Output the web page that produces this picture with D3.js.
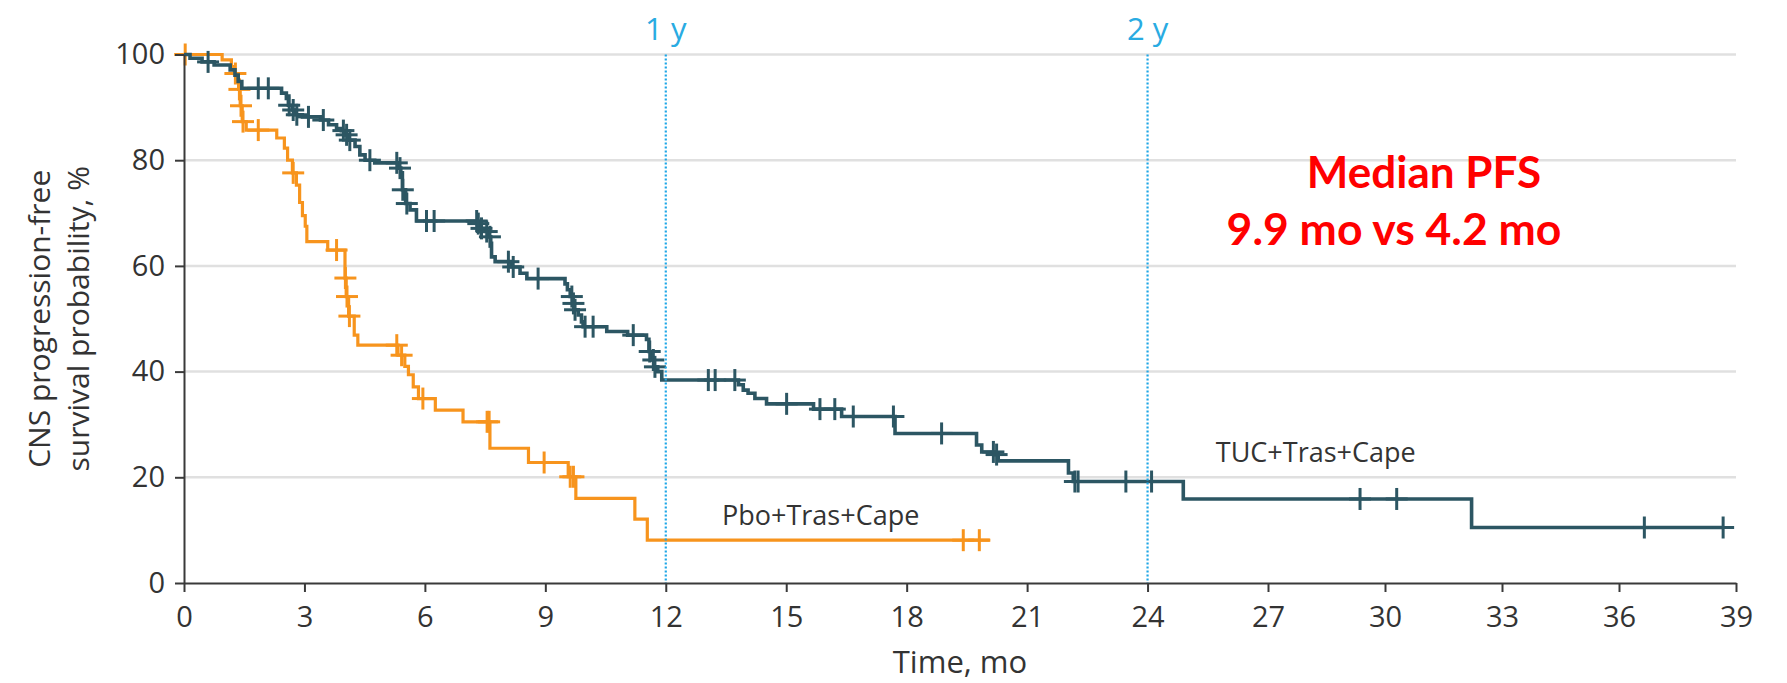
<!DOCTYPE html>
<html>
<head>
<meta charset="utf-8">
<script src="https://cdn.jsdelivr.net/npm/d3@7"></script>
<style>
  body { margin: 0; background: #fff; }
  svg { display: block; }
  .axis text { font-family: "Open Sans", sans-serif; font-size: 29px; fill: #333; }
  .axis path, .axis line { stroke: #3a3a3a; stroke-width: 2; }
</style>
</head>
<body>
<svg id="chart" width="1787" height="683"></svg>
<script>
// Kaplan-Meier steps: [month, survival %] = value from that month on
const tucSteps = [
  [0, 100], [0.15, 99.3], [0.45, 98.6], [0.75, 98.0], [1.15, 97.1], [1.27, 96.1],
  [1.35, 94.9], [1.44, 93.6], [2.43, 92.7], [2.55, 91.7], [2.60, 90.4], [2.70, 89.5],
  [2.78, 88.6], [2.95, 88.2], [3.40, 87.6], [3.60, 86.7], [3.80, 86.0], [3.92, 85.6],
  [4.00, 84.8], [4.10, 83.8], [4.26, 82.6], [4.38, 81.0], [4.51, 80.0], [4.75, 79.5],
  [5.33, 78.5], [5.40, 77.6], [5.44, 74.4], [5.52, 71.8], [5.63, 70.6], [5.79, 68.5],
  [7.31, 68.0], [7.38, 67.1], [7.50, 66.5], [7.58, 65.5], [7.64, 64.3], [7.66, 61.7],
  [7.75, 60.8], [8.15, 59.8], [8.37, 58.6], [8.54, 57.6], [9.49, 56.6], [9.55, 55.5],
  [9.62, 54.2], [9.68, 52.9], [9.72, 51.7], [9.82, 50.7], [9.90, 49.4], [9.94, 48.5],
  [10.53, 47.6], [11.05, 46.9], [11.52, 46.1], [11.58, 43.8], [11.66, 42.2], [11.71, 40.9],
  [11.80, 40.0], [11.90, 38.4], [13.81, 37.5], [13.93, 36.5], [14.05, 35.9], [14.22, 34.9],
  [14.51, 33.9], [15.68, 32.9], [16.38, 31.5], [17.71, 28.3], [19.74, 26.1], [19.87, 24.8],
  [20.22, 24.3], [20.28, 23.1], [22.03, 20.8], [22.15, 19.2], [24.89, 15.9], [32.22, 10.5]
];
const tucCensor = [
  0.6, 1.85, 2.10, 2.62, 2.72, 2.81, 3.10, 3.47, 3.97, 4.05, 4.13, 4.63, 5.30, 5.38,
  5.45, 5.55, 6.04, 6.23, 7.29, 7.33, 7.41, 7.54, 7.62, 8.08, 8.20, 8.82, 9.66, 9.70,
  9.74, 9.99, 10.19, 11.19, 11.60, 11.69, 11.73, 13.06, 13.23, 13.72, 15.01, 15.84,
  16.21, 16.67, 17.67, 18.87, 20.16, 20.24, 22.19, 22.27, 23.46, 24.10, 29.36, 30.30,
  36.65, 38.67
];
const tucEnd = 38.67;

const pboSteps = [
  [0, 100], [0.95, 99.0], [1.18, 97.7], [1.25, 96.4], [1.32, 94.9], [1.36, 93.4],
  [1.40, 90.3], [1.45, 87.3], [1.55, 85.7], [2.31, 84.2], [2.50, 82.3], [2.58, 80.0],
  [2.70, 77.6], [2.80, 75.3], [2.88, 72.0], [2.95, 69.5], [3.02, 67.5], [3.06, 64.6],
  [3.58, 63.0], [4.01, 57.7], [4.04, 54.2], [4.10, 50.5], [4.24, 46.9], [4.33, 45.0],
  [5.33, 43.1], [5.50, 41.0], [5.59, 39.4], [5.71, 37.1], [5.84, 34.9], [6.26, 32.7],
  [6.95, 30.5], [7.62, 25.5], [8.58, 22.8], [9.57, 20.1], [9.76, 16.0], [11.23, 12.1],
  [11.54, 8.1]
];
const pboCensor = [
  0.03, 1.28, 1.38, 1.42, 1.47, 1.85, 2.72, 3.80, 4.02, 4.06, 4.12, 5.30, 5.42, 5.95,
  7.55, 7.60, 8.97, 9.62, 9.70, 19.41, 19.81
];
const pboEnd = 20.07;

const xTicks = d3.range(0, 40, 3);
const yTicks = [0, 20, 40, 60, 80, 100];
const yearMarks = [{ t: 12, label: "1 y" }, { t: 24, label: "2 y" }];
const seriesLabels = [
  { text: "Pbo+Tras+Cape", t: 13.4, s: 10.9 },
  { text: "TUC+Tras+Cape", t: 25.7, s: 22.9 }
];
const medianText = ["Median PFS", "9.9 mo vs 4.2 mo"];

const svg = d3.select("#chart");

// piecewise x scale (the source axis is slightly compressed past 27 mo)
const x = d3.scaleLinear().domain([0, 27, 39]).range([184, 1268, 1736]);
const y = d3.scaleLinear().domain([0, 100]).range([583, 54.5]);

// gridlines
svg.append("g").selectAll("line")
  .data(yTicks.filter(d => d > 0))
  .enter().append("line")
  .attr("x1", x(0)).attr("x2", x(39))
  .attr("y1", d => y(d)).attr("y2", d => y(d))
  .attr("stroke", "#e0e0e0").attr("stroke-width", 2.5);

// step curves
const line = d3.line()
  .x(d => x(d[0])).y(d => y(d[1]))
  .curve(d3.curveStepAfter);

function survAt(steps, t) {
  let s = steps[0][1];
  for (const p of steps) if (p[0] <= t) s = p[1];
  return s;
}

function drawCurve(steps, censor, end, color, width) {
  const pts = steps.concat([[end, steps[steps.length - 1][1]]]);
  svg.append("path")
    .datum(pts)
    .attr("d", line)
    .attr("fill", "none")
    .attr("stroke", color)
    .attr("stroke-width", width);

  const g = svg.append("g").attr("stroke", color).attr("stroke-width", 3);
  censor.forEach(t => {
    const cx = x(t), cy = y(survAt(steps, t));
    g.append("line").attr("x1", cx - 11).attr("x2", cx + 11).attr("y1", cy).attr("y2", cy);
    g.append("line").attr("x1", cx).attr("x2", cx).attr("y1", cy - 11).attr("y2", cy + 11);
  });
}

drawCurve(pboSteps, pboCensor, pboEnd, "#f7941d", 3.2);
drawCurve(tucSteps, tucCensor, tucEnd, "#2c5663", 3.6);

// 1 y / 2 y markers
yearMarks.forEach(m => {
  svg.append("line")
    .attr("x1", x(m.t)).attr("x2", x(m.t))
    .attr("y1", y(100)).attr("y2", y(0))
    .attr("stroke", "#1ea6e6").attr("stroke-width", 2.2)
    .attr("stroke-dasharray", "2,2");
  svg.append("text")
    .attr("x", x(m.t)).attr("y", 40)
    .attr("text-anchor", "middle")
    .attr("font-family", "Open Sans, sans-serif")
    .attr("font-size", 31)
    .attr("fill", "#29abe2")
    .text(m.label);
});

// axes
svg.append("g")
  .attr("class", "axis")
  .attr("transform", `translate(0,${y(0)})`)
  .call(d3.axisBottom(x).tickValues(xTicks).tickSize(9).tickSizeOuter(0).tickPadding(14));

svg.append("g")
  .attr("class", "axis")
  .attr("transform", `translate(${x(0)},0)`)
  .call(d3.axisLeft(y).tickValues(yTicks).tickSize(9).tickSizeOuter(0).tickPadding(10));

// axis titles
svg.append("text")
  .attr("x", (x(0) + x(39)) / 2).attr("y", 673)
  .attr("text-anchor", "middle")
  .attr("font-family", "Open Sans, sans-serif")
  .attr("font-size", 31).attr("fill", "#333")
  .text("Time, mo");

const yTitle = svg.append("text")
  .attr("transform", `translate(0,${(y(0) + y(100)) / 2}) rotate(-90)`)
  .attr("text-anchor", "middle")
  .attr("font-family", "Open Sans, sans-serif")
  .attr("font-size", 30).attr("fill", "#333");
yTitle.append("tspan").attr("x", 0).attr("y", 50).text("CNS progression-free");
yTitle.append("tspan").attr("x", 0).attr("y", 89).text("survival probability, %");

// series labels
seriesLabels.forEach(l => {
  svg.append("text")
    .attr("x", x(l.t)).attr("y", y(l.s))
    .attr("font-family", "Open Sans, sans-serif")
    .attr("font-size", 27).attr("fill", "#333")
    .text(l.text);
});

// median annotation
svg.append("text")
  .attr("x", 1424).attr("y", 188)
  .attr("text-anchor", "middle")
  .attr("font-family", "Lato, sans-serif").attr("font-weight", "bold")
  .attr("font-size", 44).attr("fill", "#ff0000")
  .text(medianText[0]);
svg.append("text")
  .attr("x", 1394).attr("y", 245)
  .attr("text-anchor", "middle")
  .attr("font-family", "Lato, sans-serif").attr("font-weight", "bold")
  .attr("font-size", 44.5).attr("fill", "#ff0000")
  .text(medianText[1]);
</script>
</body>
</html>
